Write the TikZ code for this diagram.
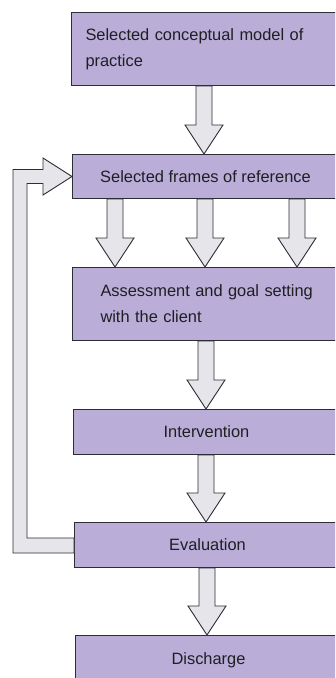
\documentclass[tikz,border=0pt]{standalone}
\usepackage{fontspec}
\setmainfont{Liberation Sans}
\usetikzlibrary{calc}
\definecolor{boxfill}{RGB}{186,174,216}
\definecolor{arrfill}{RGB}{229,229,234}
\definecolor{linec}{RGB}{45,45,55}
\definecolor{textc}{RGB}{30,30,35}
\newcommand\blockarrow[3]{%
  \draw[arr] ($(#1.south -| #3,0)+(-8,0)$) -- ($(#2.north -| #3,0)+(-8,-29)$)
    -- ($(#2.north -| #3,0)+(-19,-29)$) -- (#2.north -| #3,0)
    -- ($(#2.north -| #3,0)+(19,-29)$) -- ($(#2.north -| #3,0)+(8,-29)$)
    -- ($(#1.south -| #3,0)+(8,0)$) -- cycle;}
\begin{document}
\begin{tikzpicture}[x=1pt,y=-1pt,
  box/.style={draw=linec, line width=1pt, fill=boxfill, inner sep=0pt,
    anchor=north west, font=\fontsize{16.4}{26}\selectfont, text=textc},
  arr/.style={draw=linec, line width=0.9pt, fill=arrfill, line join=miter}]
\useasboundingbox (0,0) rectangle (335,678);
\clip (0,0) rectangle (335,678);
\fill[white] (0,0) rectangle (335,678);
% boxes
\node[box, minimum width=268pt, minimum height=73pt, text width=240pt, align=left] (b1) at (71,12)
  {Selected conceptual model of\\practice};
\node[box, minimum width=266pt, minimum height=44pt] (b2) at (72,154)
  {Selected frames of reference};
\node[box, minimum width=296pt, minimum height=73pt, text width=240pt, align=left] (b3) at (72,267)
  {Assessment and goal setting\\with the client};
\node[box, minimum width=266pt, minimum height=45pt] (b4) at (73,409) {Intervention};
\node[box, minimum width=266pt, minimum height=45pt] (b5) at (74,522) {Evaluation};
\node[box, minimum width=266pt, minimum height=50pt] (b6) at (75,635) {Discharge};
% arrows
\blockarrow{b1}{b2}{204}
\blockarrow{b2}{b3}{115}
\blockarrow{b2}{b3}{205}
\blockarrow{b2}{b3}{297}
\blockarrow{b3}{b4}{206}
\blockarrow{b4}{b5}{206}
\blockarrow{b5}{b6}{207}
% feedback arrow
\draw[arr] ($(b5.west)+(0,-7)$) -- ($(b5.west -| 27,0)+(0,-7)$)
  -- ($(b2.west -| 27,0)+(0,7)$) -- ($(b2.west)+(-29,7)$)
  -- ($(b2.west)+(-29,18.5)$) -- (b2.west)
  -- ($(b2.west)+(-29,-18.5)$) -- ($(b2.west)+(-29,-7)$)
  -- ($(b2.west -| 13,0)+(0,-7)$) -- ($(b5.west -| 13,0)+(0,8)$)
  -- ($(b5.west)+(0,8)$) -- cycle;
\end{tikzpicture}
\end{document}
